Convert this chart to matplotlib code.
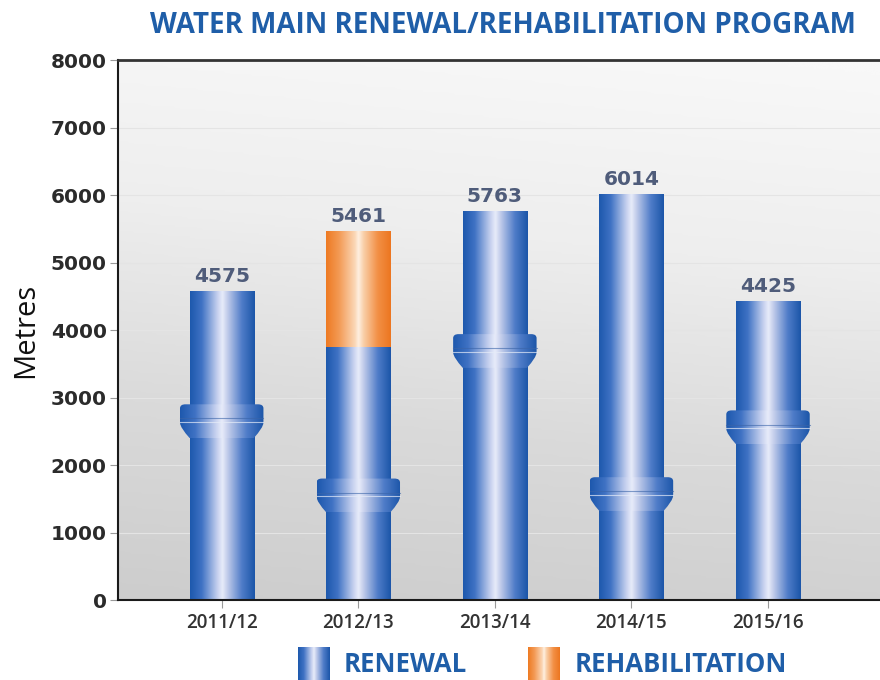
import numpy as np
import matplotlib.pyplot as plt
from matplotlib.colors import LinearSegmentedColormap
from matplotlib.path import Path
from matplotlib.patches import PathPatch

plt.rcParams['font.family'] = ['Open Sans', 'DejaVu Sans']

# data
years = ['2011/12', '2012/13', '2013/14', '2014/15', '2015/16']
renewal = [4575, 3750, 5763, 6014, 4425]
rehab = [0, 1711, 0, 0, 0]
totals = [4575, 5461, 5763, 6014, 4425]
collar_at = [2650, 1550, 3690, 1570, 2560]   # where the pipe coupling sits

blue_cmap = LinearSegmentedColormap.from_list('pipe_blue', [
    (0.0, '#1d58ad'), (0.18, '#3f72c4'), (0.42, '#c4cfee'), (0.5, '#e8ecfa'),
    (0.58, '#c0cbea'), (0.8, '#4f7cc8'), (1.0, '#1b55a8')])
orange_cmap = LinearSegmentedColormap.from_list('pipe_orange', [
    (0.0, '#ee7a22'), (0.2, '#f39a55'), (0.45, '#fbd8b8'), (0.5, '#fff0e2'),
    (0.58, '#f9cfa8'), (0.8, '#f28f45'), (1.0, '#ec7620')])
bg_cmap = LinearSegmentedColormap.from_list('bg', ['#cdcdcd', '#dadada', '#eeeeee', '#f8f8f8'])

grad = np.linspace(0, 1, 256).reshape(1, -1)

fig = plt.figure(figsize=(8.8, 6.8), dpi=100)
ax = fig.add_axes([0.134, 0.1176, 0.866, 0.794])

x = np.arange(len(years))
bw = 0.47
ax.set_xlim(-0.76, 4.82)
ax.set_ylim(0, 8000)

# background
yy = np.linspace(0, 1, 200).reshape(-1, 1)
xx = np.linspace(0, 1, 200).reshape(1, -1)
bg = np.clip(yy * 0.9 + xx * 0.12, 0, 1)
ax.imshow(bg, cmap=bg_cmap, extent=(0, 1, 0, 1), transform=ax.transAxes,
          aspect='auto', origin='lower', zorder=0)
for v in range(1000, 8000, 1000):
    ax.axhline(v, color='#e4e4e4', lw=0.8, zorder=0.5)


def fill_gradient(patch, cmap, x0, x1, y0, y1, z):
    im = ax.imshow(grad, cmap=cmap, extent=(x0, x1, y0, y1), aspect='auto',
                   zorder=z, interpolation='bicubic')
    im.set_clip_path(patch)


bars_r = ax.bar(x, renewal, width=bw, color='none', edgecolor='none', zorder=2)
bars_h = ax.bar(x, rehab, width=bw, bottom=renewal, color='none', edgecolor='none', zorder=2)
for b in bars_r:
    fill_gradient(b, blue_cmap, b.get_x(), b.get_x() + b.get_width(),
                  b.get_y(), b.get_y() + b.get_height(), 2)
for b in bars_h:
    if b.get_height() > 0:
        fill_gradient(b, orange_cmap, b.get_x(), b.get_x() + b.get_width(),
                      b.get_y(), b.get_y() + b.get_height(), 2)

# couplings
ch = 500
for xi, yc in zip(x, collar_at):
    hw = bw / 2 * 1.3
    bh = bw / 2
    top = yc + ch / 2
    bot = yc - ch / 2
    mid = yc - ch * 0.05
    verts = [(xi - bh, bot), (xi - hw * 0.99, mid - ch * 0.15), (xi - hw, mid),
             (xi - hw, top - 60), (xi - hw, top), (xi - hw + 0.04, top),
             (xi + hw - 0.04, top), (xi + hw, top), (xi + hw, top - 60),
             (xi + hw, mid), (xi + hw * 0.99, mid - ch * 0.15), (xi + bh, bot),
             (xi - bh, bot)]
    codes = [Path.MOVETO, Path.CURVE3, Path.CURVE3, Path.LINETO, Path.CURVE3, Path.CURVE3,
             Path.LINETO, Path.CURVE3, Path.CURVE3, Path.LINETO, Path.CURVE3, Path.CURVE3,
             Path.CLOSEPOLY]
    p = PathPatch(Path(verts, codes), facecolor='none', edgecolor='none', zorder=3)
    ax.add_patch(p)
    fill_gradient(p, blue_cmap, xi - hw, xi + hw, bot, top, 3)
    ax.plot([xi - hw, xi + hw], [yc + 40, yc + 40], color='#3a64a8', lw=0.8, alpha=0.6, zorder=3.5)
    ax.plot([xi - hw, xi + hw], [yc - 10, yc - 10], color='#e6ecf8', lw=0.8, alpha=0.7, zorder=3.5)

for xi, t in zip(x, totals):
    ax.text(xi, t + 80, f'{t}', ha='center', va='bottom', fontsize=14.5,
            fontweight='bold', color='#4f5c7a', family='DejaVu Sans', zorder=4)

# axes styling
ax.set_xticks(x)
ax.set_xticklabels(years, fontsize=13.5, color='#333333', fontweight='semibold')
ax.set_yticks(range(0, 8001, 1000))
ax.set_yticklabels([str(v) for v in range(0, 8001, 1000)], fontsize=14.5,
                   fontweight='bold', color='#2b2b2b', family='DejaVu Sans')
ax.tick_params(axis='both', length=6, color='#999999', width=0.8)
ax.tick_params(axis='y', pad=2)
ax.set_ylabel('Metres', fontsize=21, color='#111111', labelpad=8)
for s in ['left', 'bottom']:
    ax.spines[s].set_color('#1a1a1a')
    ax.spines[s].set_linewidth(1.5)
ax.spines['top'].set_color('#333333')
ax.spines['top'].set_linewidth(2)
ax.spines['right'].set_visible(False)

fig.text(0.572, 0.962, 'WATER MAIN RENEWAL/REHABILITATION PROGRAM', ha='center',
         va='center', fontsize=20, fontweight='bold', color='#1f5ea8')

# legend
for lx, cmap, label, tx in [(0.339, blue_cmap, 'RENEWAL', 0.39),
                            (0.6, orange_cmap, 'REHABILITATION', 0.653)]:
    lax = fig.add_axes([lx, -0.01, 0.036, 0.058])
    lax.imshow(grad, cmap=cmap, aspect='auto')
    lax.axis('off')
    fig.text(tx, 0.003, label, ha='left', va='bottom', fontsize=18.5,
             fontweight='bold', color='#1f5ea8')

fig.savefig('out.png', dpi=100)
